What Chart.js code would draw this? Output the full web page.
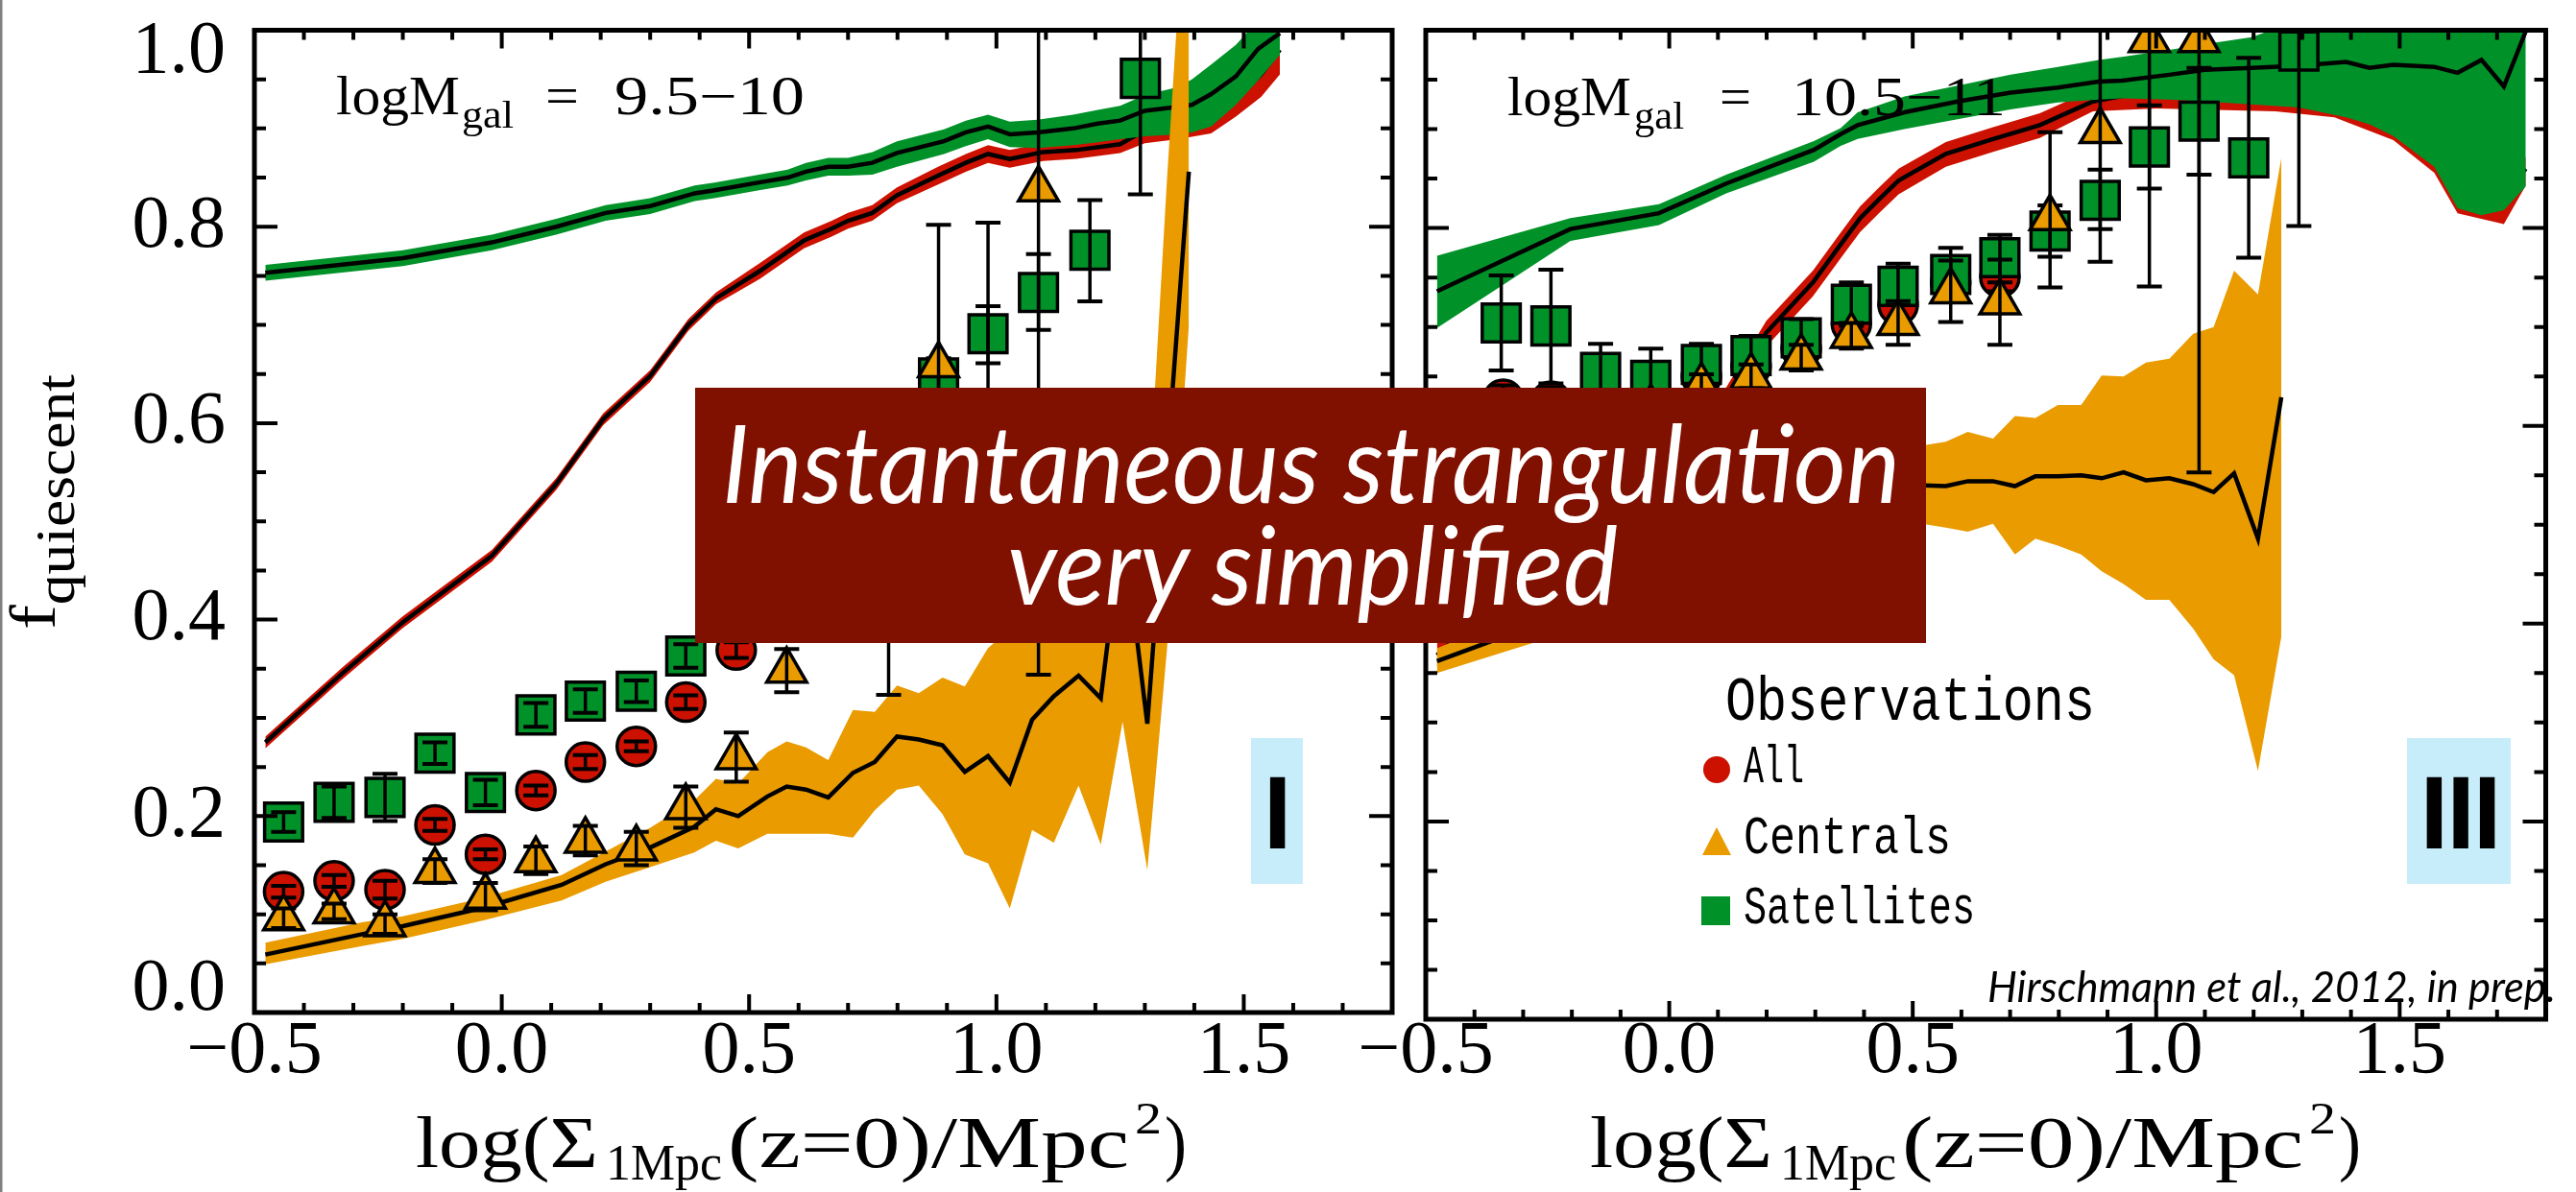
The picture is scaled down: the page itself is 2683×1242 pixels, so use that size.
<!DOCTYPE html>
<html><head><meta charset="utf-8">
<script src="https://cdn.jsdelivr.net/npm/chart.js@4.4.1/dist/chart.umd.min.js"></script>
<style>
html,body{margin:0;padding:0;background:#fff;}
#wrap{position:relative;width:2683px;height:1242px;overflow:hidden;background:#fff;}
canvas{position:absolute;left:0;top:0;}
svg{position:absolute;left:0;top:0;pointer-events:none;}
</style></head>
<body><div id="wrap">
<canvas id="c1" width="2683" height="1242"></canvas>
<canvas id="c2" width="2683" height="1242"></canvas>
<svg width="2683" height="1242" viewBox="0 0 2683 1242" xmlns="http://www.w3.org/2000/svg">
 <rect x="0" y="0" width="2.5" height="1242" fill="#808080"/>
 <g font-family="Liberation Serif" fill="#000">
  <text x="350" y="119" font-size="56" textLength="129" lengthAdjust="spacingAndGlyphs">logM</text>
  <text x="481" y="133" font-size="40" textLength="54" lengthAdjust="spacingAndGlyphs">gal</text>
  <text x="568" y="119" font-size="56" textLength="35" lengthAdjust="spacingAndGlyphs">=</text>
  <text x="640" y="119" font-size="56" textLength="198" lengthAdjust="spacingAndGlyphs">9.5−10</text>
  <text x="1570" y="120" font-size="56" textLength="129" lengthAdjust="spacingAndGlyphs">logM</text>
  <text x="1702" y="134" font-size="40" textLength="52" lengthAdjust="spacingAndGlyphs">gal</text>
  <text x="1791" y="120" font-size="56" textLength="33" lengthAdjust="spacingAndGlyphs">=</text>
  <text x="1866" y="120" font-size="56" textLength="223" lengthAdjust="spacingAndGlyphs">10.5−11</text>
  <text x="433" y="1216" font-size="76" textLength="190" lengthAdjust="spacingAndGlyphs">log(Σ</text>
  <text x="631" y="1229" font-size="52" textLength="121" lengthAdjust="spacingAndGlyphs">1Mpc</text>
  <text x="758" y="1216" font-size="76" textLength="418" lengthAdjust="spacingAndGlyphs">(z=0)/Mpc</text>
  <text x="1182" y="1181" font-size="46" textLength="28" lengthAdjust="spacingAndGlyphs">2</text>
  <text x="1213" y="1216" font-size="76" textLength="23" lengthAdjust="spacingAndGlyphs">)</text>
  <text x="1656" y="1216" font-size="76" textLength="190" lengthAdjust="spacingAndGlyphs">log(Σ</text>
  <text x="1854" y="1229" font-size="52" textLength="121" lengthAdjust="spacingAndGlyphs">1Mpc</text>
  <text x="1981" y="1216" font-size="76" textLength="418" lengthAdjust="spacingAndGlyphs">(z=0)/Mpc</text>
  <text x="2405" y="1181" font-size="46" textLength="28" lengthAdjust="spacingAndGlyphs">2</text>
  <text x="2436" y="1216" font-size="76" textLength="23" lengthAdjust="spacingAndGlyphs">)</text>
  <text transform="translate(57,656) rotate(-90)" font-size="68" textLength="266" lengthAdjust="spacingAndGlyphs">f<tspan font-size="56" dy="20">quiescent</tspan></text>
 </g>
 <rect x="1303" y="769" width="54" height="152" fill="#C8EDFA"/>
 <text x="1330.5" y="884" font-family="Liberation Sans" font-weight="bold" font-size="107" text-anchor="middle" fill="#000">I</text>
 <rect x="2507" y="769" width="108" height="152" fill="#C8EDFA"/>
 <text x="2562" y="884" font-family="Liberation Sans" font-weight="bold" font-size="107" text-anchor="middle" letter-spacing="-2" fill="#000">III</text>
 <g font-family="Liberation Mono" fill="#000">
  <text x="1797" y="750" font-size="64" textLength="385" lengthAdjust="spacingAndGlyphs">Observations</text>
  <text x="1816" y="815" font-size="56" textLength="63" lengthAdjust="spacingAndGlyphs">All</text>
  <text x="1816" y="889" font-size="56" textLength="216" lengthAdjust="spacingAndGlyphs">Centrals</text>
  <text x="1816" y="962" font-size="56" textLength="241" lengthAdjust="spacingAndGlyphs">Satellites</text>
 </g>
 <circle cx="1788" cy="802" r="14" fill="rgb(204,17,0)"/>
 <polygon points="1788,862 1803,891 1773,891" fill="rgb(233,155,0)"/>
 <rect x="1772" y="934" width="30" height="30" fill="rgb(0,146,40)"/>
 <text x="2070" y="1044" font-family="Lato" font-style="italic" font-size="44" textLength="592" lengthAdjust="spacingAndGlyphs" fill="#000">Hirschmann et al., 2012, in prep.</text>
 <rect x="724" y="404" width="1282" height="266" fill="#801000"/>
 <text x="752" y="524" font-family="Lato" font-style="italic" font-size="112" textLength="1227" lengthAdjust="spacingAndGlyphs" fill="#fff">Instantaneous strangulation</text>
 <text x="1049" y="630" font-family="Lato" font-style="italic" font-size="112" textLength="636" lengthAdjust="spacingAndGlyphs" fill="#fff">very simplified</text>
</svg>
</div>
<script>
// ---------- axes ----------
const XMIN = -0.5, XMAX = 1.8;
const xTickValues = [-0.5, 0, 0.5, 1.0, 1.5];
const xTickLabels = ['−0.5', '0.0', '0.5', '1.0', '1.5'];
const yTickValues = [0, 0.2, 0.4, 0.6, 0.8, 1.0];
const yTickLabels = ['0.0', '0.2', '0.4', '0.6', '0.8', '1.0'];

// ---------- LEFT panel (logM 9.5-10): models ----------
const L_all_mod_x   = [-0.478,-0.323,-0.201,-0.020,0.110,0.205,0.300,0.377,0.433,0.522,0.611,0.667,0.700,0.749,0.799,0.882,0.938,0.983,1.027,1.094,1.161,1.250,1.300,1.367,1.434,1.484,1.535,1.573];
const L_all_mod_mid = [0.275,0.345,0.397,0.465,0.538,0.604,0.648,0.700,0.727,0.755,0.786,0.798,0.806,0.814,0.832,0.852,0.865,0.874,0.869,0.876,0.878,0.884,0.898,0.900,0.905,0.930,0.955,0.980];
const L_all_mod_hi  = [0.281,0.351,0.403,0.471,0.544,0.610,0.654,0.706,0.733,0.763,0.794,0.806,0.814,0.822,0.840,0.861,0.874,0.883,0.878,0.885,0.887,0.893,0.907,0.909,0.914,0.939,0.964,0.989];
const L_all_mod_lo  = [0.269,0.339,0.391,0.459,0.532,0.598,0.642,0.694,0.721,0.747,0.778,0.790,0.798,0.806,0.824,0.843,0.856,0.865,0.860,0.867,0.869,0.875,0.885,0.889,0.895,0.912,0.932,0.955];

const L_sat_mod_x   = [-0.478,-0.20,-0.02,0.11,0.21,0.30,0.39,0.43,0.52,0.578,0.615,0.66,0.70,0.749,0.799,0.894,0.938,0.983,1.027,1.083,1.155,1.205,1.250,1.300,1.367,1.395,1.434,1.484,1.529,1.573];
const L_sat_mod_mid = [0.753,0.768,0.784,0.800,0.814,0.821,0.834,0.837,0.845,0.850,0.856,0.861,0.861,0.865,0.875,0.887,0.896,0.902,0.894,0.896,0.900,0.905,0.908,0.918,0.922,0.924,0.935,0.953,0.981,0.997];
const L_sat_mod_hi  = [0.761,0.776,0.792,0.808,0.822,0.829,0.842,0.845,0.853,0.858,0.865,0.870,0.870,0.876,0.887,0.899,0.908,0.914,0.907,0.909,0.914,0.919,0.923,0.934,0.942,0.950,0.965,0.985,1.010,1.020];
const L_sat_mod_lo  = [0.745,0.760,0.776,0.792,0.806,0.813,0.826,0.829,0.837,0.842,0.847,0.852,0.852,0.853,0.861,0.874,0.882,0.889,0.881,0.880,0.883,0.886,0.889,0.892,0.894,0.896,0.902,0.924,0.949,0.975];

const L_cen_mod_x   = [-0.478,-0.28,-0.20,-0.035,0.121,0.21,0.30,0.389,0.433,0.478,0.537,0.576,0.615,0.660,0.710,0.754,0.799,0.843,0.891,0.936,0.983,1.027,1.072,1.116,1.166,1.211,1.255,1.305,1.345,1.389];
const L_cen_mod_mid = [0.059,0.080,0.088,0.107,0.130,0.151,0.168,0.189,0.207,0.200,0.220,0.230,0.227,0.219,0.244,0.255,0.281,0.278,0.272,0.245,0.261,0.234,0.298,0.322,0.343,0.320,0.500,0.294,0.560,0.856];
const L_cen_mod_hi  = [0.071,0.092,0.098,0.117,0.140,0.164,0.188,0.216,0.238,0.233,0.265,0.276,0.270,0.257,0.308,0.306,0.333,0.325,0.341,0.332,0.371,0.390,0.440,0.460,0.480,0.470,0.580,0.500,0.850,1.200];
const L_cen_mod_lo  = [0.049,0.068,0.075,0.094,0.114,0.133,0.148,0.163,0.175,0.167,0.182,0.182,0.182,0.182,0.178,0.206,0.227,0.231,0.202,0.161,0.152,0.106,0.186,0.173,0.231,0.171,0.296,0.145,0.371,0.700];

// ---------- LEFT panel: observations ----------
const L_all_x  = [-0.441,-0.339,-0.236,-0.135,-0.033,0.069,0.169,0.272,0.372,0.474];
const L_all_y  = [0.123,0.134,0.125,0.191,0.161,0.226,0.255,0.271,0.316,0.369];
const L_all_lo = [0.117,0.128,0.116,0.185,0.156,0.221,0.248,0.266,0.309,0.361];
const L_all_hi = [0.129,0.140,0.134,0.197,0.166,0.231,0.262,0.276,0.323,0.377];

const L_sat_x  = [-0.441,-0.339,-0.236,-0.135,-0.033,0.069,0.169,0.272,0.372,0.883,0.983,1.085,1.189,1.291];
const L_sat_y  = [0.194,0.214,0.219,0.264,0.224,0.303,0.317,0.327,0.363,0.646,0.691,0.733,0.776,0.951];
const L_sat_lo = [0.184,0.198,0.195,0.253,0.211,0.291,0.305,0.316,0.351,0.626,0.661,0.695,0.724,0.833];
const L_sat_hi = [0.204,0.230,0.243,0.275,0.237,0.315,0.329,0.338,0.375,0.666,0.719,0.772,0.827,1.050];

const L_cen_x  = [-0.441,-0.339,-0.236,-0.135,-0.033,0.069,0.169,0.272,0.372,0.474,0.576,0.782,0.883,0.983,1.085];
const L_cen_y  = [0.096,0.103,0.090,0.144,0.118,0.155,0.175,0.167,0.209,0.260,0.348,0.450,0.659,0.610,0.838];
const L_cen_lo = [0.086,0.095,0.080,0.132,0.104,0.141,0.160,0.150,0.188,0.235,0.326,0.3235,0.520,0.450,0.344];
const L_cen_hi = [0.106,0.111,0.100,0.156,0.132,0.169,0.190,0.184,0.230,0.285,0.370,0.580,0.802,0.804,1.050];

// ---------- RIGHT panel (logM 10.5-11): models ----------
const R_all_mod_x   = [-0.477,0.116,0.199,0.295,0.350,0.392,0.433,0.471,0.568,0.665,0.761,0.870,1.000,1.245,1.366,1.487,1.571,1.619,1.714,1.759];
const R_all_mod_mid = [0.368,0.626,0.694,0.745,0.782,0.810,0.830,0.848,0.875,0.890,0.904,0.928,0.940,0.940,0.930,0.905,0.875,0.840,0.835,0.860];
const R_all_mod_hi  = [0.380,0.638,0.706,0.757,0.794,0.822,0.842,0.860,0.887,0.902,0.916,0.940,0.952,0.952,0.942,0.917,0.887,0.852,0.847,0.872];
const R_all_mod_lo  = [0.356,0.612,0.680,0.731,0.768,0.796,0.816,0.834,0.862,0.877,0.891,0.918,0.921,0.918,0.912,0.889,0.856,0.815,0.804,0.843];

const R_sat_mod_x   = [-0.477,-0.203,-0.021,0.117,0.297,0.352,0.387,0.483,0.592,0.701,0.798,0.882,0.930,1.027,1.100,1.196,1.293,1.390,1.438,1.487,1.571,1.619,1.668,1.714,1.759];
const R_sat_mod_mid = [0.736,0.799,0.815,0.845,0.879,0.895,0.904,0.917,0.928,0.937,0.942,0.948,0.949,0.955,0.960,0.962,0.964,0.968,0.962,0.965,0.963,0.957,0.970,0.943,0.999];
const R_sat_mod_hi  = [0.772,0.810,0.824,0.854,0.888,0.901,0.917,0.933,0.944,0.955,0.963,0.970,0.973,0.980,0.986,0.993,1.010,1.050,1.050,1.050,1.050,1.050,1.050,1.050,1.050];
const R_sat_mod_lo  = [0.699,0.787,0.803,0.835,0.867,0.883,0.890,0.900,0.910,0.920,0.927,0.930,0.931,0.930,0.928,0.925,0.922,0.912,0.905,0.893,0.862,0.820,0.813,0.818,0.842];

const R_cen_mod_x   = [-0.477,0.507,0.568,0.613,0.665,0.710,0.752,0.798,0.846,0.888,0.933,0.979,1.027,1.076,1.118,1.160,1.209,1.257];
const R_cen_mod_mid = [0.362,0.540,0.539,0.544,0.544,0.539,0.549,0.549,0.550,0.547,0.553,0.545,0.547,0.541,0.533,0.552,0.486,0.629];
const R_cen_mod_hi  = [0.375,0.579,0.584,0.594,0.587,0.610,0.608,0.621,0.621,0.651,0.650,0.664,0.668,0.693,0.700,0.757,0.733,0.871];
const R_cen_mod_lo  = [0.350,0.502,0.497,0.493,0.501,0.470,0.486,0.479,0.470,0.453,0.440,0.424,0.424,0.395,0.364,0.348,0.251,0.387];

// ---------- RIGHT panel: observations ----------
const R_all_x  = [-0.447,-0.341,-0.243,-0.141,-0.037,0.066,0.168,0.271,0.374,0.470,0.578,0.679];
const R_all_y  = [0.600,0.627,0.625,0.625,0.632,0.650,0.660,0.678,0.703,0.722,0.745,0.750];
const R_all_lo = [0.572,0.613,0.611,0.611,0.618,0.636,0.646,0.664,0.689,0.708,0.731,0.736];
const R_all_hi = [0.628,0.641,0.639,0.639,0.646,0.664,0.674,0.692,0.717,0.736,0.759,0.764];

const R_sat_x  = [-0.345,-0.243,-0.141,-0.038,0.066,0.168,0.271,0.374,0.470,0.578,0.679,0.782,0.885,0.986,1.088,1.190,1.293];
const R_sat_y  = [0.704,0.701,0.654,0.646,0.662,0.671,0.689,0.723,0.741,0.753,0.770,0.797,0.828,0.882,0.908,0.871,0.979];
const R_sat_lo = [0.656,0.643,0.625,0.614,0.641,0.650,0.670,0.701,0.722,0.733,0.745,0.771,0.799,0.840,0.854,0.770,0.802];
const R_sat_hi = [0.752,0.758,0.683,0.678,0.683,0.691,0.708,0.745,0.764,0.780,0.793,0.823,0.859,0.924,0.962,0.972,1.100];

const R_cen_x  = [-0.038,0.066,0.168,0.271,0.374,0.470,0.578,0.679,0.782,0.885,0.986,1.088];
const R_cen_y  = [0.618,0.640,0.650,0.669,0.691,0.704,0.736,0.725,0.810,0.898,0.990,0.990];
const R_cen_lo = [0.606,0.628,0.638,0.656,0.678,0.682,0.705,0.682,0.740,0.766,0.741,0.553];
const R_cen_hi = [0.630,0.652,0.662,0.682,0.704,0.726,0.767,0.768,0.897,1.100,1.100,1.100];

// ---------- styling ----------
const GREEN = 'rgb(0,146,40)', RED = 'rgb(204,17,0)', ORANGE = 'rgb(233,155,0)';
const pts = (xs, ys) => xs.map((x, i) => ({x, y: ys[i]}));

function bandSets(xs, lo, mid, hi, color, order) {
  return [
    {data: pts(xs, lo), borderColor: 'rgba(0,0,0,0)', borderWidth: 0, pointRadius: 0, fill: false, order: order + 0.2, clip: 0},
    {data: pts(xs, hi), borderColor: 'rgba(0,0,0,0)', borderWidth: 0, pointRadius: 0, fill: '-1', backgroundColor: color, order: order + 0.1, clip: 0},
    {data: pts(xs, mid), borderColor: '#000', borderWidth: 4.5, pointRadius: 0, fill: false, order: order, clip: 0}
  ];
}
function markerSet(xs, ys, style, r, color, order) {
  return {data: pts(xs, ys), showLine: false, pointStyle: style, pointRadius: r,
    pointBackgroundColor: color, pointBorderColor: '#000', pointBorderWidth: 3.5,
    borderColor: '#000', backgroundColor: color, order, clip: 0};
}
function errSet(xs, lo, hi, order) {
  const data = [], rad = [];
  xs.forEach((x, i) => { data.push({x, y: lo[i]}, {x, y: hi[i]}, {x, y: null}); rad.push(13, 13, 0); });
  return {data, borderColor: '#000', borderWidth: 3.5, pointStyle: 'line', pointRadius: rad,
    pointBorderColor: '#000', pointBorderWidth: 4, fill: false, spanGaps: false, order, clip: 0};
}

const framePlugin = {
  id: 'frameTicks',
  afterDraw(chart) {
    const {ctx, chartArea: a} = chart;
    const xs = chart.scales.x, ys = chart.scales.y;
    ctx.save();
    ctx.strokeStyle = '#000';
    ctx.lineWidth = 4;
    ctx.beginPath();
    for (let k = 0; k < 23; k++) {
      const p = xs.getPixelForValue(XMIN + k * 0.1);
      const L = (k % 5 === 0) ? 19 : 10;
      ctx.moveTo(p, a.bottom); ctx.lineTo(p, a.bottom - L);
      ctx.moveTo(p, a.top); ctx.lineTo(p, a.top + L);
    }
    for (let k = 0; k <= 20; k++) {
      const p = ys.getPixelForValue(k * 0.05);
      const L = (k % 4 === 0) ? 24 : 12;
      ctx.moveTo(a.left, p); ctx.lineTo(a.left + L, p);
      ctx.moveTo(a.right, p); ctx.lineTo(a.right - L, p);
    }
    ctx.stroke();
    ctx.lineWidth = 5;
    ctx.strokeRect(a.left, a.top, a.right - a.left, a.bottom - a.top);
    ctx.restore();
  }
};

function makeChart(id, p) {
  const datasets = [
    ...bandSets(p.allM[0], p.allM[3], p.allM[1], p.allM[2], RED, 100),
    ...bandSets(p.satM[0], p.satM[3], p.satM[1], p.satM[2], GREEN, 90),
    ...bandSets(p.cenM[0], p.cenM[3], p.cenM[1], p.cenM[2], ORANGE, 80),
    markerSet(p.all[0], p.all[1], 'circle', 20, RED, 70),
    errSet(p.all[0], p.all[2], p.all[3], 69),
    markerSet(p.sat[0], p.sat[1], 'rect', 28, GREEN, 60),
    errSet(p.sat[0], p.sat[2], p.sat[3], 59),
    markerSet(p.cen[0], p.cen[1], 'triangle', 24, ORANGE, 50),
    errSet(p.cen[0], p.cen[2], p.cen[3], 49)
  ];
  return new Chart(document.getElementById(id), {
    type: 'line',
    data: {datasets},
    options: {
      responsive: false, animation: false, devicePixelRatio: 1, events: [],
      layout: {padding: p.pad},
      plugins: {legend: {display: false}, tooltip: {enabled: false}},
      scales: {
        x: {type: 'linear', min: XMIN, max: XMAX, position: 'bottom',
          grid: {display: false, drawTicks: false}, border: {display: false},
          afterBuildTicks: s => { s.ticks = xTickValues.map(v => ({value: v})); },
          afterFit: s => { s.height = 100; s.paddingLeft = 0; s.paddingRight = 0; },
          ticks: {autoSkip: false, maxRotation: 0, minRotation: 0, padding: p.xPad, color: '#000',
            font: {family: 'Liberation Serif', size: 78, lineHeight: 1},
            callback: v => { const k = xTickValues.indexOf(v); return k >= 0 ? xTickLabels[k] : ''; }}},
        y: {type: 'linear', min: 0, max: 1, position: 'left',
          grid: {display: false, drawTicks: false}, border: {display: false},
          afterBuildTicks: s => { s.ticks = yTickValues.map(v => ({value: v})); },
          afterFit: s => { s.width = p.yW; s.paddingTop = 0; s.paddingBottom = 0; },
          ticks: {display: p.showY, autoSkip: false, padding: 30, color: '#000',
            font: c => ({family: 'Liberation Serif', size: 78,
              lineHeight: (c.tick && (c.tick.value === 0 || c.tick.value === 1)) ? 0.6 : 1}),
            callback: v => {
              const k = yTickValues.indexOf(v); const t = k >= 0 ? yTickLabels[k] : '';
              return v === 1 ? ['', t] : (v === 0 ? [t, ''] : t);
            }}}
      }
    },
    plugins: [framePlugin]
  });
}

makeChart('c1', {
  allM: [L_all_mod_x, L_all_mod_mid, L_all_mod_hi, L_all_mod_lo],
  satM: [L_sat_mod_x, L_sat_mod_mid, L_sat_mod_hi, L_sat_mod_lo],
  cenM: [L_cen_mod_x, L_cen_mod_mid, L_cen_mod_hi, L_cen_mod_lo],
  all: [L_all_x, L_all_y, L_all_lo, L_all_hi],
  sat: [L_sat_x, L_sat_y, L_sat_lo, L_sat_hi],
  cen: [L_cen_x, L_cen_y, L_cen_lo, L_cen_hi],
  pad: {left: 0, right: 1233, top: 12, bottom: 87},
  yW: 265, showY: true, xPad: 3
});
makeChart('c2', {
  allM: [R_all_mod_x, R_all_mod_mid, R_all_mod_hi, R_all_mod_lo],
  satM: [R_sat_mod_x, R_sat_mod_mid, R_sat_mod_hi, R_sat_mod_lo],
  cenM: [R_cen_mod_x, R_cen_mod_mid, R_cen_mod_hi, R_cen_mod_lo],
  all: [R_all_x, R_all_y, R_all_lo, R_all_hi],
  sat: [R_sat_x, R_sat_y, R_sat_lo, R_sat_hi],
  cen: [R_cen_x, R_cen_y, R_cen_lo, R_cen_hi],
  pad: {left: 1485, right: 5, top: 10.5, bottom: 80},
  yW: 0, showY: false, xPad: -4
});
</script>
</body></html>
